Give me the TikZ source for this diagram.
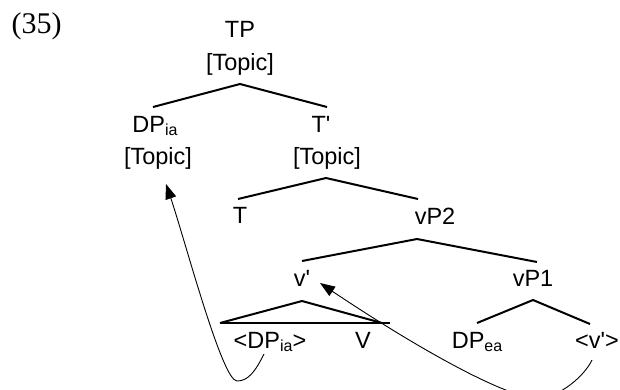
\documentclass[tikz,border=0pt]{standalone}
\usepackage{fontspec}
\setmainfont{Liberation Sans}
\newfontfamily\exnumfont{Liberation Serif}
\usetikzlibrary{arrows.meta}
\newcommand\prm{{\XeTeXglyph\XeTeXcharglyph"27\relax}}
\newcommand\sbx[1]{\raisebox{-3pt}{\fontsize{16}{16}\selectfont #1}}
\begin{document}
\begin{tikzpicture}[x=1pt,y=-1pt,
  lbl/.style={font=\fontsize{23.5}{23.5}\selectfont, inner sep=0pt, anchor=base},
  branch/.style={line width=2pt},
  mv/.style={line width=0.9pt, -{Triangle[length=15pt,width=11pt]}}]
\useasboundingbox (0,0) rectangle (620,389);
\clip (0,0) rectangle (620,389);
% example number
\node[inner sep=0pt, anchor=base, font=\exnumfont\fontsize{30}{30}\selectfont] (ex) at (36.5,33) {(35)};
% labels
\node[lbl] (tp) at (240,37) {TP};
\node[lbl] (tpf) at (240,70) {[Topic]};
\node[lbl] (dp) at (155,132) {DP\sbx{ia}};
\node[lbl] (dpf) at (158,164) {[Topic]};
\node[lbl] (tb) at (321,132) {T\prm};
\node[lbl] (tbf) at (327,164) {[Topic]};
\node[lbl] (t) at (240,223) {T};
\node[lbl] (vp2) at (435,224) {vP2};
\node[lbl] (vb) at (302,286) {v\prm};
\node[lbl] (vp1) at (533,286) {vP1};
\node[lbl] (dpia) at (270,348) {<DP\sbx{ia}>};
\node[lbl] (v) at (363,348) {V};
\node[lbl] (dpea) at (477,348) {DP\sbx{ea}};
\node[lbl] (vt) at (597,348) {<v\prm>};
% branch points
\coordinate (tpA) at (240,84);
\coordinate (tpL) at (153,107);
\coordinate (tpR) at (327,107);
\coordinate (tbA) at (326,178);
\coordinate (tbL) at (238,199);
\coordinate (tbR) at (418,199);
\coordinate (vp2A) at (417,239);
\coordinate (vp2L) at (302,261);
\coordinate (vp2R) at (537,262);
\coordinate (vbA) at (302,301);
\coordinate (vbL) at (220,323);
\coordinate (vbR) at (382,323);
\coordinate (vbE) at (390,323);
\coordinate (vp1A) at (533,300);
\coordinate (vp1L) at (477,323);
\coordinate (vp1R) at (590,324);
\draw[branch] (tpL) -- (tpA) -- (tpR);
\draw[branch] (tbL) -- (tbA) -- (tbR);
\draw[branch] (vp2L) -- (vp2A) -- (vp2R);
\draw[branch] (vbL) -- (vbA) -- (vbR);
\draw[branch] (vbL) -- (vbE);
\draw[branch] (vp1L) -- (vp1A) -- (vp1R);
% movement arrows
\coordinate (m1s) at (264,354);
\coordinate (m1b) at (237,381);
\coordinate (m1e) at (166,184);
\coordinate (m2s) at (592,360);
\coordinate (m2b) at (537,398);
\coordinate (m2e) at (320,283);
\draw[mv] (m1s) .. controls (255,372) and (248,381) .. (m1b) .. controls (222,381) and (185,240) .. (m1e);
\draw[mv] (m2s) .. controls (585,375) and (560,398) .. (m2b) .. controls (507,398) and (420,350) .. (m2e);
\end{tikzpicture}
\end{document}
